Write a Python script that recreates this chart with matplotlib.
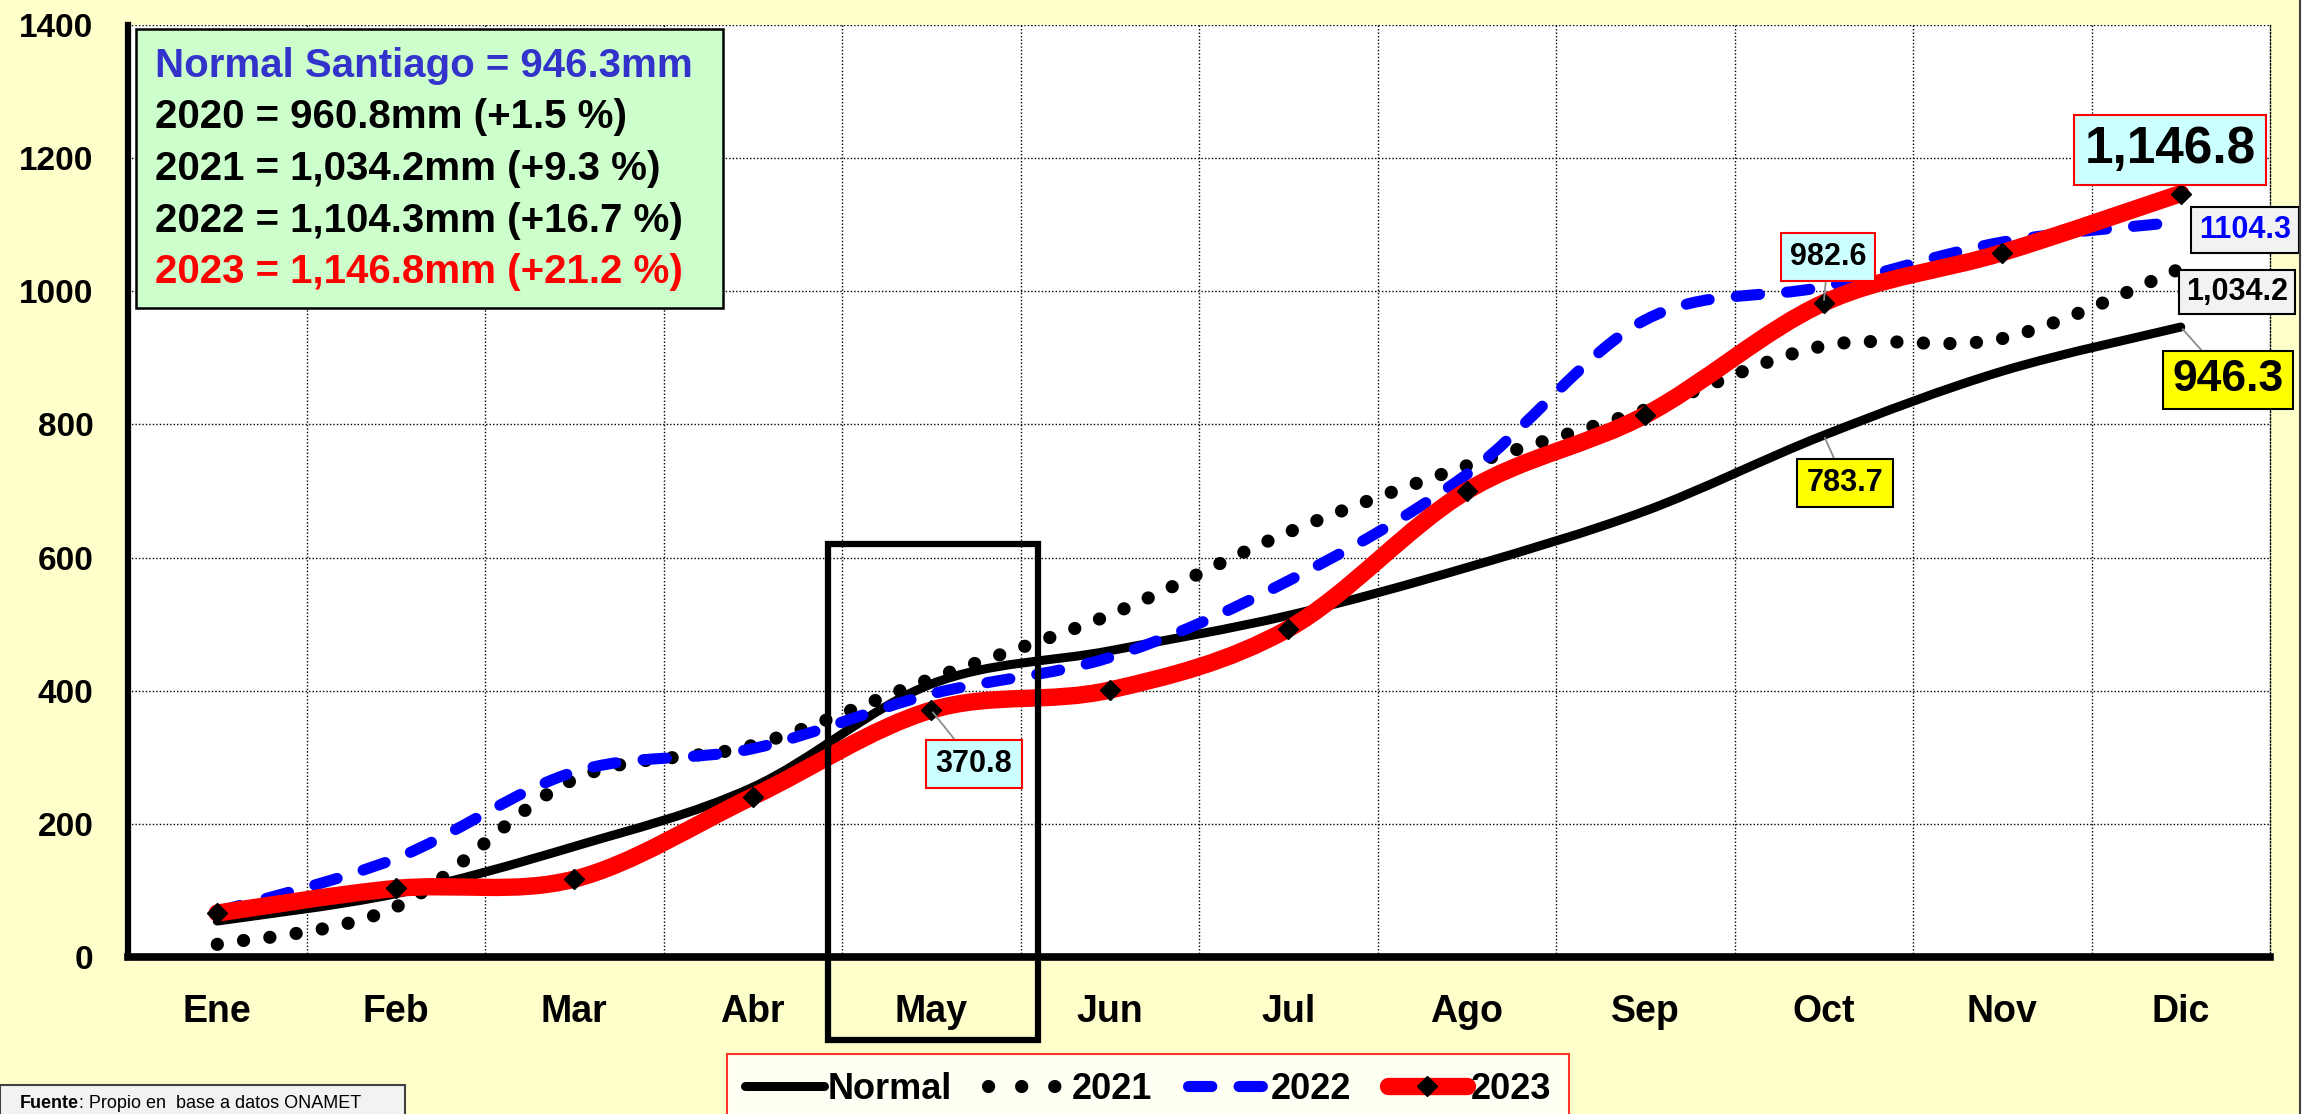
import numpy as np
import matplotlib
matplotlib.use('Agg')
import matplotlib.pyplot as plt
from matplotlib.path import Path
from matplotlib.patches import PathPatch, Rectangle
from matplotlib.lines import Line2D
from matplotlib.text import Annotation

# Lluvia acumulada Santiago (mm)
months = ['Ene', 'Feb', 'Mar', 'Abr', 'May', 'Jun', 'Jul', 'Ago', 'Sep', 'Oct', 'Nov', 'Dic']
normal = [54, 95, 166, 255, 410, 460, 513, 585, 670, 783.7, 880, 946.3]
y2021 = [19, 75, 267, 318, 418, 514, 638, 738, 822, 918, 929, 1034.2]
y2022 = [68, 148, 278, 313, 395, 450, 565, 725, 957, 1007, 1074, 1104.3]
y2023 = [66, 103, 117, 241, 370.8, 401, 493, 700, 814, 982.6, 1058, 1146.8]

summary_lines = ['Normal Santiago = 946.3mm',
                 '2020 = 960.8mm (+1.5 %)',
                 '2021 = 1,034.2mm (+9.3 %)',
                 '2022 = 1,104.3mm (+16.7 %)',
                 '2023 = 1,146.8mm (+21.2 %)']
summary_colors = ['#3333CC', 'black', 'black', 'black', '#FF0000']

plt.rcParams['font.family'] = ['Liberation Sans', 'DejaVu Sans']
plt.rcParams['font.weight'] = 'bold'

W, H = 2310, 1114


def fx(px):
    return px / W


def fy(py):
    return 1 - py / H


def smooth_path(xs, ys):
    # bezier segments like excel "smoothed line"
    n = len(xs)
    verts = [(xs[0], ys[0])]
    codes = [Path.MOVETO]
    for i in range(n - 1):
        a = max(i - 1, 0)
        b = min(i + 2, n - 1)
        c1 = (xs[i] + (xs[i + 1] - xs[a]) / 6, ys[i] + (ys[i + 1] - ys[a]) / 6)
        c2 = (xs[i + 1] - (xs[b] - xs[i]) / 6, ys[i + 1] - (ys[b] - ys[i]) / 6)
        verts += [c1, c2, (xs[i + 1], ys[i + 1])]
        codes += [Path.CURVE4] * 3
    return Path(verts, codes)


fig = plt.figure(figsize=(W / 100, H / 100), dpi=100)
fig.patch.set_facecolor('#FFFFCC')
ax = fig.add_axes([fx(128), fy(957), fx(2270) - fx(128), fy(25) - fy(957)])
ax.set_facecolor('white')

x = np.arange(len(months))
ax.set_xlim(-0.5, len(months) - 0.5)
ax.set_ylim(0, 1400)

# series
styles = [
    (normal, dict(ec='black', lw=6.5, ls='-', capstyle='round')),
    (y2021, dict(ec='black', lw=9.5, ls=(0, (0.01, 2.0)), capstyle='round')),
    (y2022, dict(ec='#0000FF', lw=8, ls=(0, (2.1, 2.45)), capstyle='round')),
    (y2023, dict(ec='#FF0000', lw=12.5, ls='-', capstyle='round')),
]
for z, (vals, kw) in enumerate(styles):
    ax.add_patch(PathPatch(smooth_path(x, vals), fill=False, zorder=3 + z, **kw))
ax.plot(x, y2023, ls='none', marker='D', ms=10, color='black', zorder=8)

# grid
ax.set_yticks(np.arange(0, 1401, 200))
ax.set_xticks(x)
ax.set_xticks(x[:-1] + 0.5, minor=True)
ax.set_xticklabels(months, fontsize=27, fontweight='bold')
ax.set_yticklabels([str(v) for v in range(0, 1401, 200)], fontsize=24, fontweight='bold')
ax.tick_params(axis='both', which='both', length=0)
ax.tick_params(axis='x', pad=27)
ax.tick_params(axis='y', pad=25)
ax.grid(axis='y', which='major', color='black', lw=1.0, ls=(0, (1, 1.5)))
ax.grid(axis='x', which='minor', color='black', lw=1.0, ls=(0, (1, 1.5)))
ax.set_axisbelow(True)
ax.spines['top'].set_visible(False)
ax.spines['right'].set_linestyle((0, (1, 1.5)))
ax.spines['right'].set_linewidth(1.0)
ax.spines['left'].set_linewidth(4.5)
ax.spines['bottom'].set_linewidth(5.5)

# May highlight
may = months.index('May')
ax.add_patch(Rectangle((may - 0.58, -125), 1.18, 745, fill=False, ec='black',
                       lw=4.5, clip_on=False, zorder=9))

# value labels
cyan = '#CCFFFF'
lead = dict(arrowstyle='-', color='#8C8C8C', lw=1.3, shrinkA=0, shrinkB=2)


def label(idx, val, text, cx, cy, size, fc, ec, color='black', arrow=True, pad=0.3):
    ax.annotate(text, xy=(idx, val), xycoords='data',
                xytext=(fx(cx), fy(cy)), textcoords='figure fraction',
                ha='center', va='center', fontsize=size, fontweight='bold', color=color,
                bbox=dict(boxstyle='square,pad=%s' % pad, fc=fc, ec=ec, lw=1.5),
                arrowprops=lead if arrow else None, zorder=10, annotation_clip=False)


label(4, y2023[4], '370.8', 974, 764, 22, cyan, 'red', pad=0.3)
label(9, y2023[9], '982.6', 1828, 257, 22, cyan, 'red', pad=0.3)
label(9, normal[9], '783.7', 1845, 483, 22, '#FFFF00', 'black', pad=0.3)
label(11, y2023[11], '1,146.8', 2170, 150, 37, cyan, 'red', arrow=False, pad=0.2)
label(11, y2022[11], '1104.3', 2245, 230, 22, '#F2F2F2', 'black', color='#0000FF', arrow=False, pad=0.25)
label(11, y2021[11], '1,034.2', 2237, 292, 22, '#F2F2F2', 'black', arrow=False, pad=0.22)
label(11, normal[11], '946.3', 2228, 380, 32, '#FFFF00', 'black', pad=0.2)

# summary box
fig.patches.append(Rectangle((fx(136), fy(308)), fx(723) - fx(136), fy(29) - fy(308),
                             transform=fig.transFigure, fc='#CCFFCC', ec='black', lw=1.8, zorder=5))
for i, (line, col) in enumerate(zip(summary_lines, summary_colors)):
    fig.text(fx(155), fy(66 + i * 51.5), line, color=col, fontsize=29, fontweight='bold',
             ha='left', va='center', zorder=6)

# legend
handles = [
    Line2D([], [], color='black', lw=6.5, solid_capstyle='round'),
    Line2D([], [], color='black', lw=9.5, ls=(0, (0.01, 2.5)), dash_capstyle='round'),
    Line2D([], [], color='#0000FF', lw=8, ls=(0, (2.1, 2.45)), dash_capstyle='round'),
    Line2D([], [], color='#FF0000', lw=12.5, marker='D', ms=10, mfc='black', mec='black',
           solid_capstyle='round'),
]
leg = fig.legend(handles, ['Normal', '2021', '2022', '2023'], loc='upper center',
                 bbox_to_anchor=(fx(1148), fy(1054)), ncol=4, frameon=True, fancybox=False,
                 prop=dict(size=26, weight='bold'), handlelength=2.2, handletextpad=0.1,
                 columnspacing=1.0, borderpad=0.5, borderaxespad=0)
leg.get_frame().set_edgecolor('red')
leg.get_frame().set_facecolor('white')
leg.get_frame().set_linewidth(1.5)

# source
fig.patches.append(Rectangle((fx(0), fy(1125)), fx(405), fy(1085) - fy(1125),
                             transform=fig.transFigure, fc='#F2F2F2', ec='#404040', lw=1.5,
                             zorder=5))
t1 = fig.text(fx(20), fy(1104), 'Fuente', fontsize=13, fontweight='bold', va='center', zorder=6)
fig.add_artist(Annotation(': Propio en  base a datos ONAMET', xy=(1, 0), xycoords=t1,
                          va='bottom', ha='left', fontsize=13, fontweight='normal', zorder=6))

# outer border at right
fig.patches.append(Rectangle((fx(2300), 0), fx(2310) - fx(2300), 1, transform=fig.transFigure,
                             fc='white', ec='none'))
fig.lines.append(Line2D([fx(2300), fx(2300)], [0, 1], transform=fig.transFigure,
                        color='#404040', lw=1.5))

fig.savefig('out.png', dpi=100, facecolor=fig.get_facecolor())
